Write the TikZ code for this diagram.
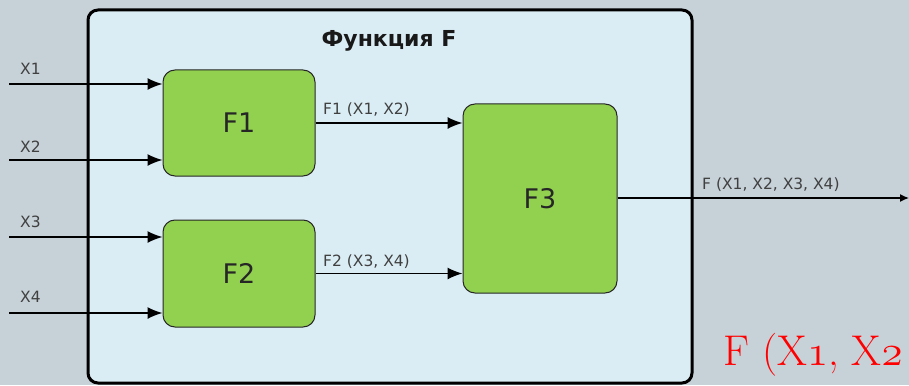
\RequirePackage{fix-cm}
\documentclass[tikz,border=0pt]{standalone}
\usepackage{fontspec}
\newfontfamily\labelfont{DejaVu Sans}
\usetikzlibrary{arrows.meta}
\definecolor{bgc}{HTML}{C6D1D8}
\definecolor{boxc}{HTML}{DBEDF4}
\definecolor{greenc}{HTML}{92D050}
\definecolor{txtc}{HTML}{404040}
\tikzset{
  fbox/.style={draw=black!85, line width=1pt, fill=greenc, rounded corners=12pt, inner sep=0pt,
    font=\labelfont\fontsize{27}{30}\selectfont, text=black!85},
  lbl/.style={font=\labelfont\fontsize{15.5}{18}\selectfont, text=txtc, inner sep=0pt, anchor=base west},
  conn/.style={line width=1.4pt, -{Latex[length=15pt,width=12pt]}},
}
\begin{document}
\begin{tikzpicture}[x=1pt,y=-1pt]
\useasboundingbox (0,0) rectangle (909,385);
\clip (0,0) rectangle (909,385);
\fill[bgc] (0,0) rectangle (909,385);
\draw[line width=3pt, fill=boxc, rounded corners=10pt] (88,10) rectangle (692,383);
\node[font=\labelfont\bfseries\fontsize{22}{24}\selectfont, text=black!90, inner sep=0pt, anchor=base] (title) at (389,47) {Функция F};
\node[fbox, minimum width=152pt, minimum height=106pt] (F1) at (239,123) {F1};
\node[fbox, minimum width=152pt, minimum height=107pt] (F2) at (239,273.5) {F2};
\node[fbox, minimum width=154pt, minimum height=189pt] (F3) at (540,198.5) {F3};
\coordinate (x1) at (9,84);
\coordinate (x2) at (9,160);
\coordinate (x3) at (9,237);
\coordinate (x4) at (9,313);
\coordinate (out) at (909,198);
\draw[conn] (x1) -- (x1 -| F1.west);
\draw[conn] (x2) -- (x2 -| F1.west);
\draw[conn] (x3) -- (x3 -| F2.west);
\draw[conn] (x4) -- (x4 -| F2.west);
\draw[conn] (F1.east) -- (F1.east -| F3.west);
\draw[conn] (F2.east) -- (F2.east -| F3.west);
\draw[line width=1.4pt, -{Latex[length=9pt,width=8pt]}] (F3.east |- out) -- (out);
\node[lbl] (lx1) at (20,75) {X1};
\node[lbl] (lx2) at (20,152) {X2};
\node[lbl] (lx3) at (20,227) {X3};
\node[lbl] (lx4) at (20,302) {X4};
\node[lbl] (lf1) at (323,114) {F1 (X1, X2)};
\node[lbl] (lf2) at (323,266) {F2 (X3, X4)};
\node[lbl] (lf) at (702,189) {F (X1, X2, X3, X4)};
\node[anchor=base west, inner sep=0pt, text=red, font=\rmfamily\fontsize{43}{48}\selectfont] (red) at (723,365) {F (X$\mathnormal{1}$, X$\mathnormal{2}$};
\end{tikzpicture}
\end{document}
